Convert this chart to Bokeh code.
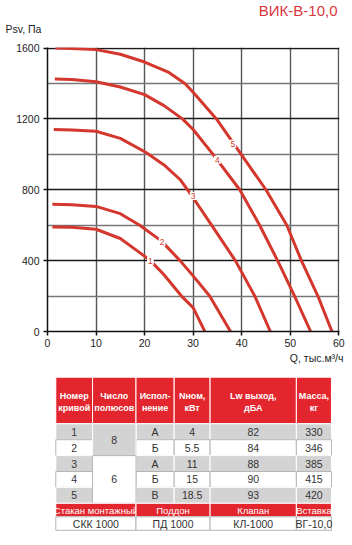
from bokeh.plotting import figure
from bokeh.models import Range1d, FixedTicker, Title, ColumnDataSource
from bokeh.layouts import column
from bokeh.embed import file_html
from bokeh.resources import INLINE
from bokeh.core.properties import value

# ---------------- data ----------------
q1 = [1.0, 5, 10, 15, 19, 21.2, 24, 27.6, 30, 32.4]
p1 = [590, 588, 577, 525, 445, 400, 320, 200, 135, 0]
q2 = [1.0, 5, 10, 15, 19, 23.5, 27.3, 30, 33.4, 37.7]
p2 = [718, 716, 706, 665, 600, 510, 400, 314, 200, 0]
q3 = [1.3, 5, 10, 15, 20.3, 24, 27.3, 30.0, 33.8, 38.7, 42.7, 45.9]
p3 = [1140, 1138, 1130, 1090, 1010, 940, 858, 755, 600, 400, 200, 0]
q4 = [1.5, 5, 10, 15, 20, 24, 27.8, 30, 34.1, 39.6, 43.7, 47.4, 50.9, 54.2]
p4 = [1425, 1423, 1410, 1380, 1337, 1275, 1200, 1140, 1000, 800, 600, 400, 200, 0]
q5 = [1.6, 5, 10, 15, 20, 25, 28.3, 30, 34.8, 39.9, 45.0, 49.3, 52.3, 55.7, 58.6]
p5 = [1600, 1598, 1591, 1565, 1521, 1462, 1400, 1350, 1200, 1000, 800, 600, 400, 200, 0]

curve_labels = ["1", "2", "3", "4", "5"]
label_q = [21.2, 23.6, 30.0, 35.0, 38.2]
label_p = [400, 505, 765, 970, 1060]

x_ticks = [0, 10, 20, 30, 40, 50, 60]
y_ticks = [0, 400, 800, 1200, 1600]
y_minor = [200, 600, 1000, 1400]

title_text = "ВИК-В-10,0"
y_title = "Psv, Па"
x_title = "Q, тыс.м³/ч"

header = ["Номер\nкривой", "Число\nполюсов", "Испол-\nнение", "Nном,\nкВт", "Lw выход,\nдБА", "Масса,\nкг"]
curve_no = ["1", "2", "3", "4", "5"]
poles = ["8", "6"]
poles_span = [2, 3]
version = ["А", "Б", "А", "Б", "В"]
power = ["4", "5.5", "11", "15", "18.5"]
lw = ["82", "84", "88", "90", "93"]
mass = ["330", "346", "385", "415", "420"]
acc_names = ["Стакан монтажный", "Поддон", "Клапан", "Вставка"]
acc_codes = ["СКК 1000", "ПД 1000", "КЛ-1000", "ВГ-10,0"]

# ---------------- styles ----------------
FONT = "Liberation Sans"
RED_LINE = "#d4372d"
RED_HDR = "#e3262d"
GRAY = "#d3d3d3"
TXT = "#333333"

# ---------------- chart ----------------
p = figure(width=352, height=370, x_range=Range1d(0, 60.15), y_range=Range1d(0, 1603),
           output_backend="svg", toolbar_location=None,
           min_border_left=47, min_border_right=13, min_border_top=47, min_border_bottom=39)
p.outline_line_color = None
p.background_fill_color = "white"

p.xaxis.ticker = FixedTicker(ticks=x_ticks)
p.yaxis.ticker = FixedTicker(ticks=y_ticks, minor_ticks=y_minor)
for ax in (p.xaxis[0], p.yaxis[0]):
    ax.axis_line_color = "#111111"
    ax.axis_line_width = 1.5
    ax.major_tick_line_color = "#111111"
    ax.major_tick_line_width = 1.5
    ax.major_tick_out = 4
    ax.major_tick_in = 0
    ax.minor_tick_line_color = None
    ax.major_label_text_font = FONT
    ax.major_label_text_font_size = "10.5px"
    ax.major_label_text_color = "#222222"
p.xaxis.major_label_standoff = 3
p.yaxis.major_label_standoff = 4

p.xgrid.grid_line_color = "#555555"
p.xgrid.grid_line_width = 1.4
p.ygrid.grid_line_color = "#1a1a1a"
p.ygrid.grid_line_width = 1.3
p.ygrid.minor_grid_line_color = "#777777"
p.ygrid.minor_grid_line_width = 1.5

for qs, ps in [(q1, p1), (q2, p2), (q3, p3), (q4, p4), (q5, p5)]:
    p.line(qs, ps, line_color=RED_LINE, line_width=3, line_join="round")

lab_src = ColumnDataSource(dict(x=label_q, y=label_p, t=curve_labels))
p.text("x", "y", text="t", source=lab_src, text_color=RED_LINE, text_font=value(FONT),
       text_font_size="8.5px", text_align="center", text_baseline="middle",
       background_fill_color="white", padding=1)

# titles around the frame
p.add_layout(Title(text=y_title, align="left", offset=-42, standoff=26,
                   text_font=FONT, text_font_size="10.5px", text_font_style="normal",
                   text_color="#222222"), "above")
p.add_layout(Title(text=title_text, align="right", offset=2, standoff=-22,
                   text_font=FONT, text_font_size="15px", text_font_style="normal",
                   text_color="#d9363e"), "above")
p.add_layout(Title(text=x_title, align="right", offset=-4, standoff=0,
                   text_font=FONT, text_font_size="10.5px", text_font_style="normal",
                   text_color="#222222"), "below")

# ---------------- table ----------------
t = figure(width=352, height=175, x_range=Range1d(0, 352), y_range=Range1d(175, 0),
           output_backend="svg", toolbar_location=None,
           min_border=0, min_border_left=0, min_border_right=0, min_border_top=0, min_border_bottom=0)
t.axis.visible = False
t.grid.visible = False
t.outline_line_color = None

col_edges = [10, 54.3, 106.7, 152.7, 196, 300, 342.3]
hdr_top, hdr_bot = 6.7, 53.3
row_h = 15.9
foot_h = 13.5

def cell(x0, x1, y0, y1, fill, line):
    t.quad(left=x0, right=x1, top=y0, bottom=y1, fill_color=fill, line_color=line, line_width=1)

def txt(x, y, s, color=TXT, size="10.5px", style="normal"):
    t.text([x], [y], text=[s], text_color=color, text_font=value(FONT), text_font_size=size,
           text_font_style=style, text_align="center", text_baseline="middle", text_line_height=1.2)

# header
for i, h in enumerate(header):
    cell(col_edges[i], col_edges[i + 1], hdr_top, hdr_bot, RED_HDR, "white")
    txt((col_edges[i] + col_edges[i + 1]) / 2, (hdr_top + hdr_bot) / 2 + 1, h, "white", "9px", "bold")

# body rows
row_cols = [curve_no, None, version, power, lw, mass]
for r in range(5):
    y0 = hdr_bot + r * row_h
    y1 = y0 + row_h
    fill = GRAY if r % 2 == 0 else "white"
    line = "white" if r % 2 == 0 else "#b5b5b5"
    for c in range(6):
        if row_cols[c] is None:
            continue
        cell(col_edges[c], col_edges[c + 1], y0, y1, fill, line)
        txt((col_edges[c] + col_edges[c + 1]) / 2, (y0 + y1) / 2, row_cols[c][r])

# merged poles column
start = 0
for k, (pv, span) in enumerate(zip(poles, poles_span)):
    y0 = hdr_bot + start * row_h
    y1 = y0 + span * row_h
    fill = GRAY if k == 0 else "white"
    cell(col_edges[1], col_edges[2], y0, y1, fill, "#b5b5b5" if k else "white")
    txt((col_edges[1] + col_edges[2]) / 2, (y0 + y1) / 2, pv)
    start += span

# accessories
acc_edges = [col_edges[0], col_edges[2], col_edges[4], col_edges[5], col_edges[6]]
fy0 = hdr_bot + 5 * row_h
fy1 = fy0 + foot_h
fy2 = fy1 + foot_h
for i in range(4):
    cell(acc_edges[i], acc_edges[i + 1], fy0, fy1, RED_HDR, "white")
    txt((acc_edges[i] + acc_edges[i + 1]) / 2, (fy0 + fy1) / 2, acc_names[i], "white", "9.5px")
    cell(acc_edges[i], acc_edges[i + 1], fy1, fy2, "white", "#b5b5b5")
    txt((acc_edges[i] + acc_edges[i + 1]) / 2, (fy1 + fy2) / 2, acc_codes[i])

layout = column(p, t, spacing=0)
open("out.html", "w").write(file_html(layout, INLINE))
